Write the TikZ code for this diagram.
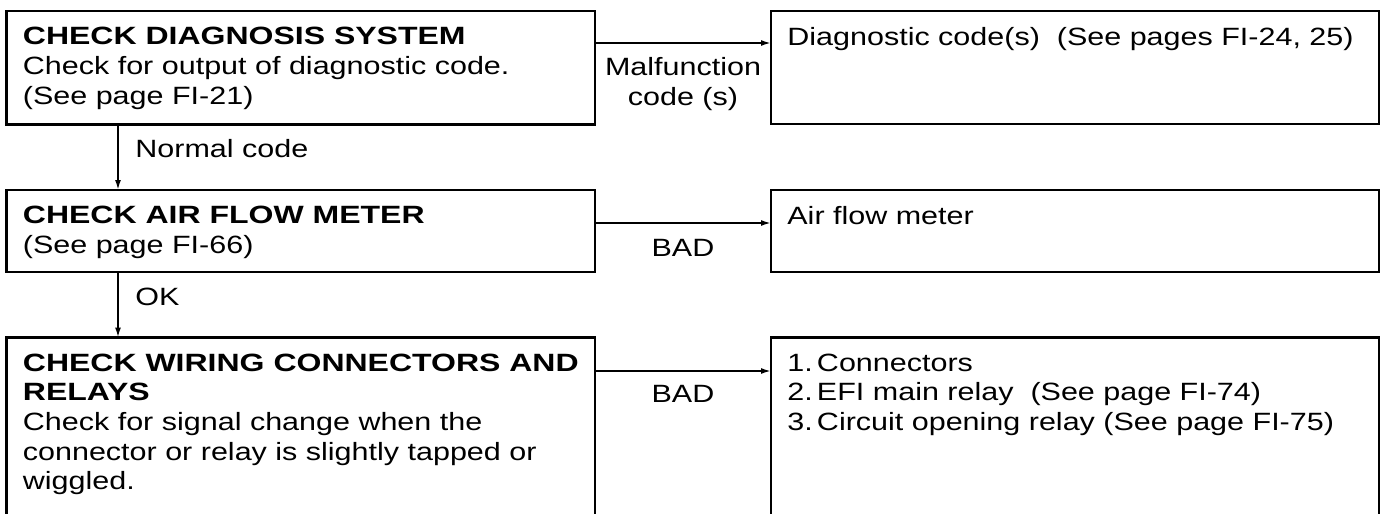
\documentclass[tikz,border=0pt]{standalone}
\usepackage{fontspec}
\setmainfont{Liberation Sans}[FakeStretch=1.22, BoldFeatures={FakeStretch=1.28}]
\usetikzlibrary{positioning, arrows.meta}

\begin{document}
\begin{tikzpicture}[
    x=0.5pt, y=-0.5pt,
    stepbox/.style={rectangle, draw, line width=1.3pt, outer sep=0pt, inner sep=0pt, anchor=north west},
    leftbox/.style={stepbox, minimum width=294.25pt},
    rightbox/.style={stepbox, minimum width=304pt},
    txt/.style={anchor=north west, align=left, inner sep=0pt, font=\fontsize{12.5}{14.8}\selectfont},
    lbl/.style={align=center, inner sep=0pt, font=\fontsize{12.5}{14.8}\selectfont},
    flow/.style={line width=0.9pt, -{Latex[length=5pt, width=3pt]}}
]
\useasboundingbox (0,0) rectangle (1389,514);
\clip (0,0) rectangle (1389,514);

% Left column: checks
\node[leftbox, minimum height=56.75pt] (diag) at (6.5,11) {};
\node[leftbox, minimum height=41pt] (air) at (6.5,190) {};
\node[leftbox, minimum height=105pt] (wiring) at (6.5,337.5) {};

\node[txt] (diagtxt) at ([shift={(8pt,-8pt)}]diag.north west)
    {\textbf{CHECK DIAGNOSIS SYSTEM}\\Check for output of diagnostic code.\\(See page FI-21)};
\node[txt] (airtxt) at ([shift={(8pt,-8pt)}]air.north west)
    {\textbf{CHECK AIR FLOW METER}\\(See page FI-66)};
\node[txt] (wiringtxt) at ([shift={(8pt,-8pt)}]wiring.north west)
    {\textbf{CHECK WIRING CONNECTORS AND}\\\textbf{RELAYS}\\Check for signal change when the\\connector or relay is slightly tapped or\\wiggled.};

% Right column: repairs
\node[rightbox, minimum height=56.5pt] (codes) at (771,11) {};
\node[rightbox, minimum height=41pt] (meter) at (771,190) {};
\node[rightbox, minimum height=105pt] (relays) at (771,337.5) {};

\node[txt] (codestxt) at ([shift={(8pt,-8pt)}]codes.north west)
    {Diagnostic code(s)\ \ (See pages FI-24, 25)};
\node[txt] (metertxt) at ([shift={(8pt,-8pt)}]meter.north west)
    {Air flow meter};
\node[txt] (relaystxt) at ([shift={(8pt,-8pt)}]relays.north west)
    {1.\,Connectors\\2.\,EFI main relay\ \ (See page FI-74)\\3.\,Circuit opening relay (See page FI-75)};

% Branch labels
\node[lbl] (malf) at (683,84) {Malfunction\\code (s)};
\node[lbl] (bad1) at (683,248) {BAD};
\node[lbl] (bad2) at (683,394) {BAD};
\node[lbl, anchor=west] (normal) at (135,149) {Normal code};
\node[lbl, anchor=west] (ok) at (135,297) {OK};

% Connectors
\draw[flow] ([xshift=55.75pt]diag.south west) -- ([xshift=55.75pt]air.north west);
\draw[flow] ([xshift=55.75pt]air.south west) -- ([xshift=55.75pt]wiring.north west);
\draw[flow] ([yshift=-16pt]diag.north east) -- ([yshift=-16pt]codes.north west);
\draw[flow] ([yshift=-16.5pt]air.north east) -- ([yshift=-16.5pt]meter.north west);
\draw[flow] ([yshift=-16.75pt]wiring.north east) -- ([yshift=-16.75pt]relays.north west);

\end{tikzpicture}
\end{document}
